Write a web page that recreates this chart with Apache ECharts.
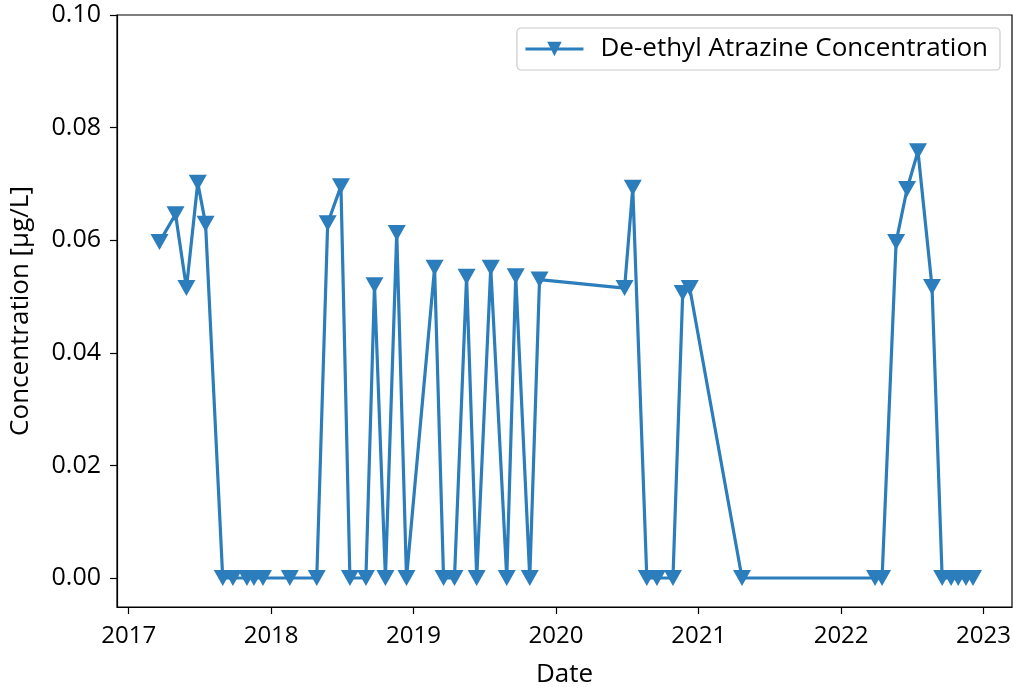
<!DOCTYPE html>
<html>
<head>
<meta charset="utf-8">
<script src="https://cdn.jsdelivr.net/npm/echarts@6/dist/echarts.min.js"></script>
<style>
  html, body { margin: 0; padding: 0; background: #fff; }
  #main { width: 1013px; height: 687px; }
</style>
</head>
<body>
<div id="main"></div>
<script>
// sample dates and concentrations (ug/L)
var dates = [
    '2017-03-21', '2017-05-01', '2017-05-29', '2017-06-27', '2017-07-17',
    '2017-08-30', '2017-09-25', '2017-10-31', '2017-11-18', '2017-12-11',
    '2018-02-18', '2018-04-28', '2018-05-26', '2018-06-29', '2018-07-22',
    '2018-09-01', '2018-09-23', '2018-10-21', '2018-11-19', '2018-12-14',
    '2019-02-24', '2019-03-19', '2019-04-16', '2019-05-17', '2019-06-12',
    '2019-07-18', '2019-08-28', '2019-09-20', '2019-10-26', '2019-11-20',
    '2020-06-25', '2020-07-16', '2020-08-21', '2020-09-16', '2020-10-27',
    '2020-11-21', '2020-12-09', '2021-04-22', '2022-03-29', '2022-04-16',
    '2022-05-22', '2022-06-19', '2022-07-17', '2022-08-22', '2022-09-17',
    '2022-10-10', '2022-10-28', '2022-11-17', '2022-12-05'
];
var concentration = [
    0.0597, 0.0646, 0.0515, 0.0702, 0.0629,
    0, 0, 0, 0, 0,
    0, 0, 0.0630, 0.0696, 0,
    0, 0.0520, 0, 0.0613, 0,
    0.0551, 0, 0, 0.0535, 0,
    0.0551, 0, 0.0536, 0, 0.0530,
    0.0515, 0.0693, 0, 0, 0,
    0.0506, 0.0515, 0, 0, 0,
    0.0597, 0.0691, 0.0758, 0.0517, 0,
    0, 0, 0, 0
];
var yearTicks = [2017, 2018, 2019, 2020, 2021, 2022, 2023];
var yTicks = [0, 0.02, 0.04, 0.06, 0.08, 0.10];

var seriesName = 'De-ethyl Atrazine Concentration';
var lineColor = '#2c7dbb';
var font = 'Open Sans';

function toTime(s) {
    var p = s.split('-');
    return Date.UTC(+p[0], +p[1] - 1, +p[2]);
}

var points = [];
for (var i = 0; i < dates.length; i++) {
    points.push([toTime(dates[i]), concentration[i]]);
}
var tickTimes = yearTicks.map(function (y) { return Date.UTC(y, 0, 1); });

var myChart = echarts.init(document.getElementById('main'));
var option = {
    animation: false,
    textStyle: { fontFamily: font, color: '#000' },
    grid: {
        left: 117,
        right: 1,
        top: 15,
        bottom: 80,
        containLabel: false,
        outerBoundsMode: 'none',
        show: true,
        borderColor: '#000',
        borderWidth: 1.2,
        backgroundColor: 'transparent'
    },
    legend: {
        data: [seriesName],
        right: 13,
        top: 28,
        padding: [8, 12, 8, 7],
        borderColor: '#ccc',
        borderWidth: 1.2,
        borderRadius: 4,
        itemWidth: 58,
        itemHeight: 18,
        lineStyle: { width: 3 },
        textStyle: { fontFamily: font, fontSize: 26, color: '#000', padding: [0, 0, 0, 12] }
    },
    xAxis: {
        type: 'value',
        min: Date.UTC(2016, 11, 2),
        max: Date.UTC(2023, 2, 15),
        name: 'Date',
        nameLocation: 'middle',
        nameGap: 55,
        nameTextStyle: { fontFamily: font, fontSize: 26, color: '#000' },
        axisLine: { onZero: false, lineStyle: { color: '#000', width: 1.2 } },
        axisTick: { show: true, length: 7, customValues: tickTimes, lineStyle: { color: '#000', width: 1.2 } },
        axisLabel: {
            customValues: tickTimes,
            margin: 17,
            fontFamily: font,
            fontSize: 24,
            color: '#000',
            formatter: function (val) { return String(new Date(val).getUTCFullYear()); }
        },
        splitLine: { show: false }
    },
    yAxis: {
        type: 'value',
        min: -0.00515,
        max: 0.1,
        name: 'Concentration [μg/L]',
        nameLocation: 'middle',
        nameGap: 83,
        nameTextStyle: { fontFamily: font, fontSize: 26, color: '#000' },
        axisLine: { show: true, onZero: false, lineStyle: { color: '#000', width: 1.2 } },
        axisTick: { show: true, length: 7, customValues: yTicks, lineStyle: { color: '#000', width: 1.2 } },
        axisLabel: {
            customValues: yTicks,
            margin: 16,
            fontFamily: font,
            fontSize: 25,
            color: '#000',
            formatter: function (v) { return v.toFixed(2); }
        },
        splitLine: { show: false }
    },
    series: [{
        name: seriesName,
        type: 'line',
        data: points,
        symbol: 'triangle',
        symbolRotate: 180,
        symbolSize: [18, 16],
        showSymbol: true,
        showAllSymbol: true,
        color: lineColor,
        lineStyle: { color: lineColor, width: 3.2 },
        itemStyle: { color: lineColor, borderWidth: 0 }
    }]
};
myChart.setOption(option);
</script>
</body>
</html>
